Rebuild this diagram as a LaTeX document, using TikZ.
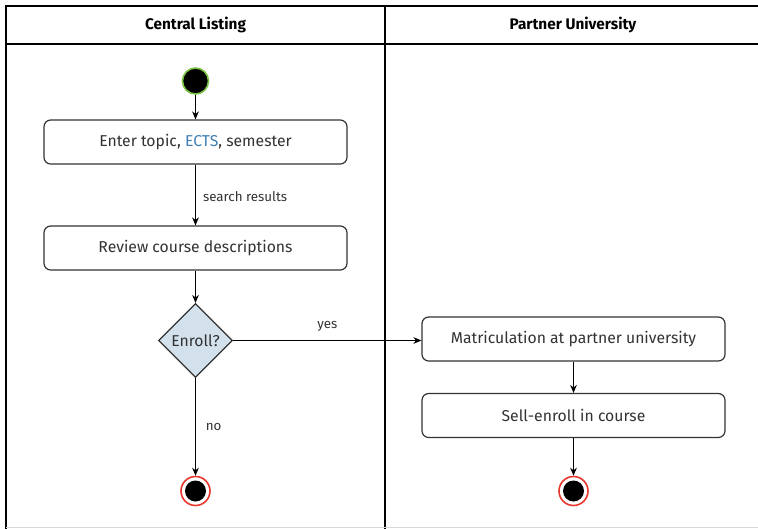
\documentclass[tikz,border=0pt]{standalone}
\usepackage{fontspec}
\setmainfont{Fira Sans}
\usetikzlibrary{shapes.geometric,arrows.meta}
\definecolor{txt}{HTML}{333333}
\definecolor{ectsblue}{HTML}{3F7FB5}
\definecolor{startgreen}{HTML}{7CC242}
\definecolor{endred}{HTML}{E8372C}
\definecolor{decfill}{HTML}{D3E1EC}
\tikzset{
  x=0.75pt, y=-0.75pt,
  action/.style={draw=txt, line width=0.9pt, rounded corners=5pt, minimum width=303*0.75pt, minimum height=44*0.75pt, text=txt, font=\fontsize{11.8}{14}\selectfont, inner sep=0pt},
  decision/.style={draw=txt, line width=0.9pt, diamond, aspect=1, fill=decfill, minimum width=74*0.75pt, minimum height=74*0.75pt, inner sep=0pt, text=txt, font=\fontsize{11.8}{14}\selectfont},
  startnode/.style={circle, fill=black, draw=startgreen, line width=1.2pt, minimum size=26*0.75pt, inner sep=0pt},
  endring/.style={circle, draw=endred, line width=1.2pt, minimum size=29*0.75pt, inner sep=0pt},
  enddot/.style={circle, fill=black, minimum size=21*0.75pt, inner sep=0pt},
  flow/.style={draw=black, line width=0.75pt, -{Stealth[length=6pt,width=5pt]}},
  lbl/.style={text=txt, font=\fontsize{10}{12}\selectfont},
  head/.style={text=black, font=\bfseries\fontsize{11.5}{13}\selectfont},
  lane/.style={draw=black, line width=1pt}
}
\begin{document}
\begin{tikzpicture}
\useasboundingbox (0,0) rectangle (758,529);
\fill[white] (0,0) rectangle (758,529);
% swimlane frame
\draw[lane] (760,6) -- (6,6) -- (6,529);
\draw[lane] (6,44) -- (760,44);
\draw[lane] (385,6) -- (385,529);
\draw[gray!30, line width=0.6pt] (6,527.5) -- (758,527.5);
\node[head] (h1) at (195.5,25) {Central Listing};
\node[head] (h2) at (573,25) {Partner University};
% nodes
\node[startnode] (start) at (195.5,81) {};
\node[action] (enter) at (195.5,142) {Enter topic, \textcolor{ectsblue}{ECTS}, semester};
\node[action] (review) at (195.5,248) {Review course descriptions};
\node[decision] (enroll) at (195.5,340.5) {Enroll?};
\node[action] (matric) at (573.5,339) {Matriculation at partner university};
\node[action] (sell) at (573.5,415.5) {Sell-enroll in course};
\node[endring] (end1) at (195.5,491) {};
\node[enddot] (end1in) at (195.5,491) {};
\node[endring] (end2) at (573.5,491) {};
\node[enddot] (end2in) at (573.5,491) {};
% connectors
\draw[flow] (start) -- (enter);
\draw[flow] (enter) -- node[lbl, right, xshift=2pt, yshift=-1pt] {search results} (review);
\draw[flow] (review) -- (enroll);
\draw[flow] (enroll.east) -- node[lbl, above, pos=0.5, yshift=3pt] {yes} (enroll.east -| matric.west);
\draw[flow] (enroll) -- node[lbl, right, xshift=4pt, pos=0.5] {no} (end1);
\draw[flow] (matric) -- (sell);
\draw[flow] (sell) -- (end2);
\end{tikzpicture}
\end{document}
